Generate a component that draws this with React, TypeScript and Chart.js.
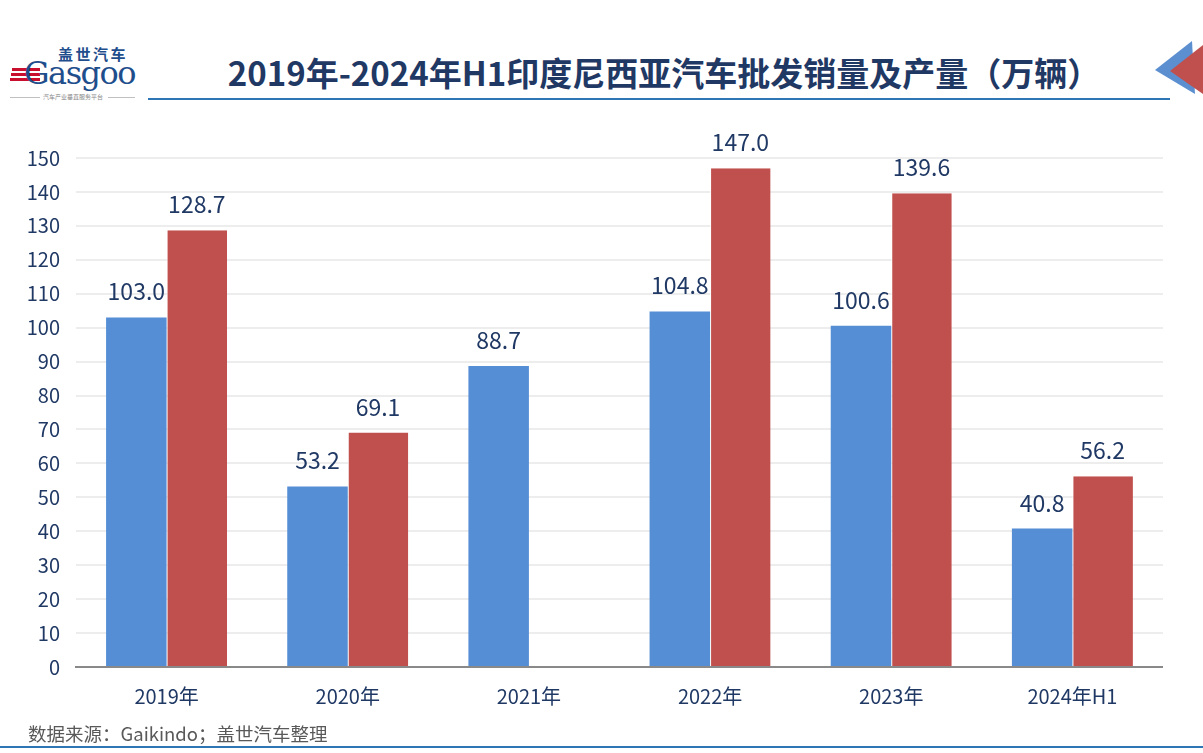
import React, { useEffect, useRef } from "react";
import { Chart, registerables } from "chart.js";

Chart.register(...registerables);

const categories = ["2019年", "2020年", "2021年", "2022年", "2023年", "2024年H1"];
const salesValues: (number | null)[] = [103.0, 53.2, 88.7, 104.8, 100.6, 40.8];
const productionValues: (number | null)[] = [128.7, 69.1, null, 147.0, 139.6, 56.2];
const seriesNames = ["批发销量", "产量"];
const yMin = 0;
const yMax = 150;
const yStep = 10;

const NAVY = "#1F3864";
const FONT = "'Noto Sans CJK SC', 'Noto Sans', sans-serif";

const valueLabelPlugin = {
  id: "valueLabels",
  afterDatasetsDraw(chart: any) {
    const ctx = chart.ctx;
    ctx.save();
    ctx.font = `23px ${FONT}`;
    ctx.fillStyle = NAVY;
    ctx.textAlign = "center";
    ctx.textBaseline = "alphabetic";
    chart.data.datasets.forEach((ds: any, di: number) => {
      const meta = chart.getDatasetMeta(di);
      meta.data.forEach((bar: any, i: number) => {
        const v = ds.data[i];
        if (v === null || v === undefined) return;
        ctx.fillText(Number(v).toFixed(1), bar.x, bar.y - 17);
      });
    });
    ctx.restore();
  },
};

function ChartCanvas() {
  const ref = useRef<HTMLCanvasElement | null>(null);
  useEffect(() => {
    if (!ref.current) return;
    const chart = new Chart(ref.current, {
      type: "bar",
      data: {
        labels: categories,
        datasets: [
          {
            label: seriesNames[0],
            data: salesValues,
            backgroundColor: "#558ED5",
            borderWidth: 0,
            categoryPercentage: 0.668,
            barPercentage: 1,
          },
          {
            label: seriesNames[1],
            data: productionValues,
            backgroundColor: "#C0504D",
            borderColor: "#FFFFFF",
            borderWidth: { left: 1, top: 0, right: 0, bottom: 0 },
            borderSkipped: false,
            categoryPercentage: 0.668,
            barPercentage: 1,
          },
        ],
      },
      options: {
        animation: false,
        responsive: false,
        maintainAspectRatio: false,
        layout: { padding: { top: 27, right: 0, bottom: 0, left: 0 } },
        plugins: {
          legend: { display: false },
          tooltip: { enabled: false },
          title: { display: false },
        },
        scales: {
          x: {
            grid: { display: false, drawTicks: false },
            border: { display: true, color: "#898989", width: 2 },
            ticks: {
              color: NAVY,
              font: { family: FONT, size: 20 },
              padding: 17,
              maxRotation: 0,
            },
            afterFit: (scale: any) => {
              scale.height = 63;
            },
          },
          y: {
            min: yMin,
            max: yMax,
            grid: { color: "#EDEDED", lineWidth: 2, drawTicks: false },
            border: { display: false },
            ticks: {
              stepSize: yStep,
              color: NAVY,
              font: { family: FONT, size: 20 },
              padding: 16,
            },
            afterFit: (scale: any) => {
              scale.width = 76;
            },
          },
        },
      },
      plugins: [valueLabelPlugin],
    });
    return () => chart.destroy();
  }, []);
  return (
    <canvas
      ref={ref}
      width={1163}
      height={600}
      style={{ position: "absolute", left: 0, top: 130, width: 1163, height: 600 }}
    />
  );
}

export default function App() {
  return (
    <div
      style={{
        position: "absolute",
        left: 0,
        top: 0,
        width: 1203,
        height: 753,
        background: "#FFFFFF",
        overflow: "hidden",
        fontFamily: FONT,
      }}
    >
      {/* Logo */}
      <div
        style={{
          position: "absolute",
          left: 58,
          top: 45,
          fontSize: 15,
          fontWeight: 700,
          color: "#1F4E8C",
          letterSpacing: 2.5,
          lineHeight: "17px",
          whiteSpace: "nowrap",
        }}
      >
        盖世汽车
      </div>
      <div style={{ position: "absolute", left: 12, top: 68, width: 28, height: 3, background: "#C8102E" }} />
      <div style={{ position: "absolute", left: 11, top: 73, width: 29, height: 3, background: "#C8102E" }} />
      <div style={{ position: "absolute", left: 10, top: 78, width: 30, height: 3, background: "#C8102E" }} />
      <div
        style={{
          position: "absolute",
          left: 24,
          top: 54,
          fontSize: 32,
          fontFamily: "'DejaVu Serif', 'Liberation Serif', serif",
          color: "#1F4E8C",
          lineHeight: "38px",
          letterSpacing: -1.5,
          whiteSpace: "nowrap",
        }}
      >
        Gasgoo
      </div>
      <div style={{ position: "absolute", left: 10, top: 97, width: 30, height: 1, background: "#C0C0C0" }} />
      <div style={{ position: "absolute", left: 108, top: 97, width: 27, height: 1, background: "#C0C0C0" }} />
      <div
        style={{
          position: "absolute",
          left: 43,
          top: 92,
          fontSize: 6,
          color: "#888888",
          lineHeight: "10px",
          whiteSpace: "nowrap",
        }}
      >
        汽车产业垂直服务平台
      </div>

      {/* Title */}
      <div
        style={{
          position: "absolute",
          left: 154,
          width: 1020,
          top: 49,
          textAlign: "center",
          fontSize: 33,
          fontWeight: 700,
          color: NAVY,
          lineHeight: "46px",
          whiteSpace: "nowrap",
        }}
      >
        2019年-2024年H1印度尼西亚汽车批发销量及产量（万辆）
      </div>
      <div style={{ position: "absolute", left: 148, top: 98, width: 1022, height: 2, background: "#2E75B6" }} />

      {/* Decoration */}
      <svg style={{ position: "absolute", left: 0, top: 0 }} width={1203} height={753}>
        <polygon points="1155,70 1192,41 1195,94" fill="#5B8FD0" />
        <polygon points="1170,71 1203,45 1203,94" fill="#C0504D" />
        <line x1={0} y1={747} x2={1203} y2={747} stroke="#2E75B6" strokeWidth={2} />
      </svg>

      <ChartCanvas />

      {/* Footer */}
      <div
        style={{
          position: "absolute",
          left: 28,
          top: 720,
          fontSize: 18.5,
          color: "#595959",
          lineHeight: "26px",
          whiteSpace: "nowrap",
        }}
      >
        数据来源：Gaikindo；盖世汽车整理
      </div>
    </div>
  );
}
